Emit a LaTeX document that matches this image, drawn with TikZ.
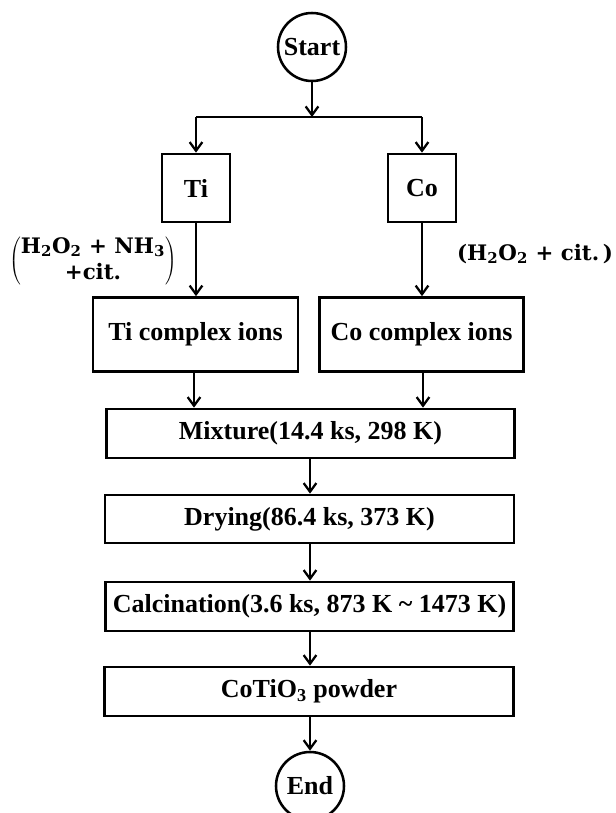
\documentclass[tikz,border=0pt]{standalone}
\usepackage{fontspec}
\setmainfont{Liberation Serif}
\newfontfamily\labfont{DejaVu Serif}
\usetikzlibrary{arrows.meta}
\begin{document}
\begin{tikzpicture}[x=0.75pt,y=-0.75pt,
  box/.style={draw,line width=2pt,inner sep=0pt,font=\fontsize{19.5}{22}\selectfont\bfseries},
  term/.style={draw,circle,line width=1.9pt,inner sep=0pt,minimum size=51pt,font=\fontsize{19.5}{22}\selectfont\bfseries},
  arr/.style={line width=1.7pt,-{Straight Barb[length=6.5pt,width=9.5pt]}},
  conn/.style={line width=1.7pt},
  lab/.style={font=\labfont\fontsize{16}{19}\selectfont\bfseries,inner sep=0pt}]
\clip (0,0) rectangle (616,813);
\fill[white] (0,0) rectangle (616,813);
% nodes
\node[term] (start) at (312,47) {Start};
\node[box,minimum width=51pt,minimum height=51pt] (ti) at (196,188) {Ti};
\node[box,minimum width=51pt,minimum height=51pt] (co) at (422,188) {Co};
\node[box,minimum width=153.75pt,minimum height=55.5pt] (tic) at (195.5,334.5) {Ti complex ions};
\node[box,minimum width=153pt,minimum height=55.5pt] (coc) at (421.5,334.5) {Co complex ions};
\node[box,minimum width=306pt,minimum height=36.75pt] (mix) at (310.5,433.5) {Mixture(14.4 ks, 298 K)};
\node[box,minimum width=306.75pt,minimum height=36pt] (dry) at (309.5,519) {Drying(86.4 ks, 373 K)};
\node[box,minimum width=306pt,minimum height=36.75pt] (cal) at (309.5,606.5) {Calcination(3.6 ks, 873 K \textasciitilde{} 1473 K)};
\node[box,minimum width=306.75pt,minimum height=36.75pt] (pow) at (309,691.5) {CoTiO\textsubscript{3} powder};
\node[term] (end) at (310,786) {End};
% labels
\node[lab] (lt) at (93,261) {$\left(\vcenter{\hbox{\labfont\bfseries\renewcommand\arraystretch{1.05}\begin{tabular}{@{}c@{}}H\textsubscript{2}O\textsubscript{2} + NH\textsubscript{3}\\+cit.\end{tabular}}}\right)$};
\node[lab] (rt) at (535,254) {(H\textsubscript{2}O\textsubscript{2} + cit.\,)};
% connectors
\coordinate (j) at (312,117);
\coordinate (jl) at (196,117);
\coordinate (jr) at (422,117);
\draw[arr] (start) -- (j);
\draw[conn] (jl) -- (jr);
\draw[arr] (jl) -- (ti);
\draw[arr] (jr) -- (co);
\draw[arr] (ti) -- (ti |- tic.north);
\draw[arr] (co) -- (co |- coc.north);
\draw[arr] (tic.south -| 194,0) -- (194,0 |- mix.north);
\draw[arr] (coc.south -| 423,0) -- (423,0 |- mix.north);
\draw[arr] (mix.south -| 310,0) -- (310,0 |- dry.north);
\draw[arr] (dry.south -| 310,0) -- (310,0 |- cal.north);
\draw[arr] (cal.south -| 310,0) -- (310,0 |- pow.north);
\draw[arr] (pow.south -| end) -- (end);
\end{tikzpicture}
\end{document}
